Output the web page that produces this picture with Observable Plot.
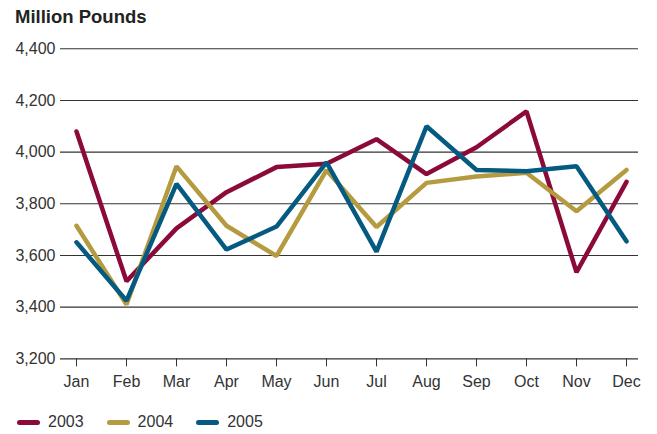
<!DOCTYPE html>
<html>
<head>
<meta charset="utf-8">
<script src="https://cdn.jsdelivr.net/npm/d3@7"></script>
<script src="https://cdn.jsdelivr.net/npm/@observablehq/plot@0.6"></script>
<style>
  body { margin: 0; background: white; font-family: "Liberation Sans", Arial, sans-serif; color: #333; }
  #title { height: 30px; box-sizing: border-box; padding: 7px 0 0 15px; font-size: 18.5px; line-height: 20px; font-weight: bold; color: #222; }
  #legend { display: flex; align-items: center; padding: 22px 0 0 17px; font-size: 16px; line-height: 20px; color: #333; }
  .item { display: flex; align-items: center; margin-right: 23px; }
  .sw { width: 23px; height: 5px; border-radius: 3px; margin-right: 8px; }
</style>
</head>
<body>
<div id="title">Million Pounds</div>
<div id="chart"></div>
<div id="legend"></div>
<script>
const months = ["Jan","Feb","Mar","Apr","May","Jun","Jul","Aug","Sep","Oct","Nov","Dec"];
const years = ["2003","2004","2005"];
const colors = ["#8c0a3a","#b59b40","#045a80"];
const s2003 = [4080, 3500, 3705, 3845, 3942, 3955, 4050, 3915, 4019, 4158, 3535, 3885];
const s2004 = [3715, 3410, 3945, 3715, 3598, 3930, 3710, 3881, 3906, 3920, 3771, 3931];
const s2005 = [3651, 3425, 3877, 3623, 3712, 3960, 3615, 4100, 3931, 3926, 3945, 3655];
const yTicks = [3200, 3400, 3600, 3800, 4000, 4200, 4400];

const series = [s2003, s2004, s2005];
const data = [];
years.forEach((y, i) => months.forEach((m, j) => data.push({year: y, month: m, value: series[i][j]})));

const fmt = d3.format(",.0f");
const chart = Plot.plot({
  width: 657,
  height: 360,
  marginTop: 18.3,
  marginLeft: 60,
  marginRight: 19,
  marginBottom: 31.7,
  style: {fontFamily: "'Liberation Sans', Arial, sans-serif", fontSize: "16px", color: "#333", background: "white"},
  x: {type: "point", domain: months, padding: 0, insetLeft: 13, insetRight: 9, label: null},
  y: {domain: [3200, 4400], label: null},
  color: {domain: years, range: colors},
  marks: [
    Plot.ruleY(yTicks.slice(1), {stroke: "#333", strokeWidth: 1.1}),
    Plot.ruleY([3200], {stroke: "#333", strokeWidth: 1.2}),
    Plot.axisY({ticks: yTicks, tickSize: 0, tickPadding: 5, tickFormat: fmt, label: null, fontSize: 16}),
    Plot.axisX({tickSize: 8, tickPadding: 9, label: null, fontSize: 16}),
    Plot.line(data, {x: "month", y: "value", stroke: "year", z: "year", strokeWidth: 4.5, strokeLinejoin: "miter", strokeLinecap: "round"})
  ]
});
document.getElementById("chart").appendChild(chart);

const legend = document.getElementById("legend");
years.forEach((y, i) => {
  const item = document.createElement("div");
  item.className = "item";
  const sw = document.createElement("span");
  sw.className = "sw";
  sw.style.background = colors[i];
  const t = document.createElement("span");
  t.textContent = y;
  item.appendChild(sw);
  item.appendChild(t);
  legend.appendChild(item);
});
</script>
</body>
</html>
